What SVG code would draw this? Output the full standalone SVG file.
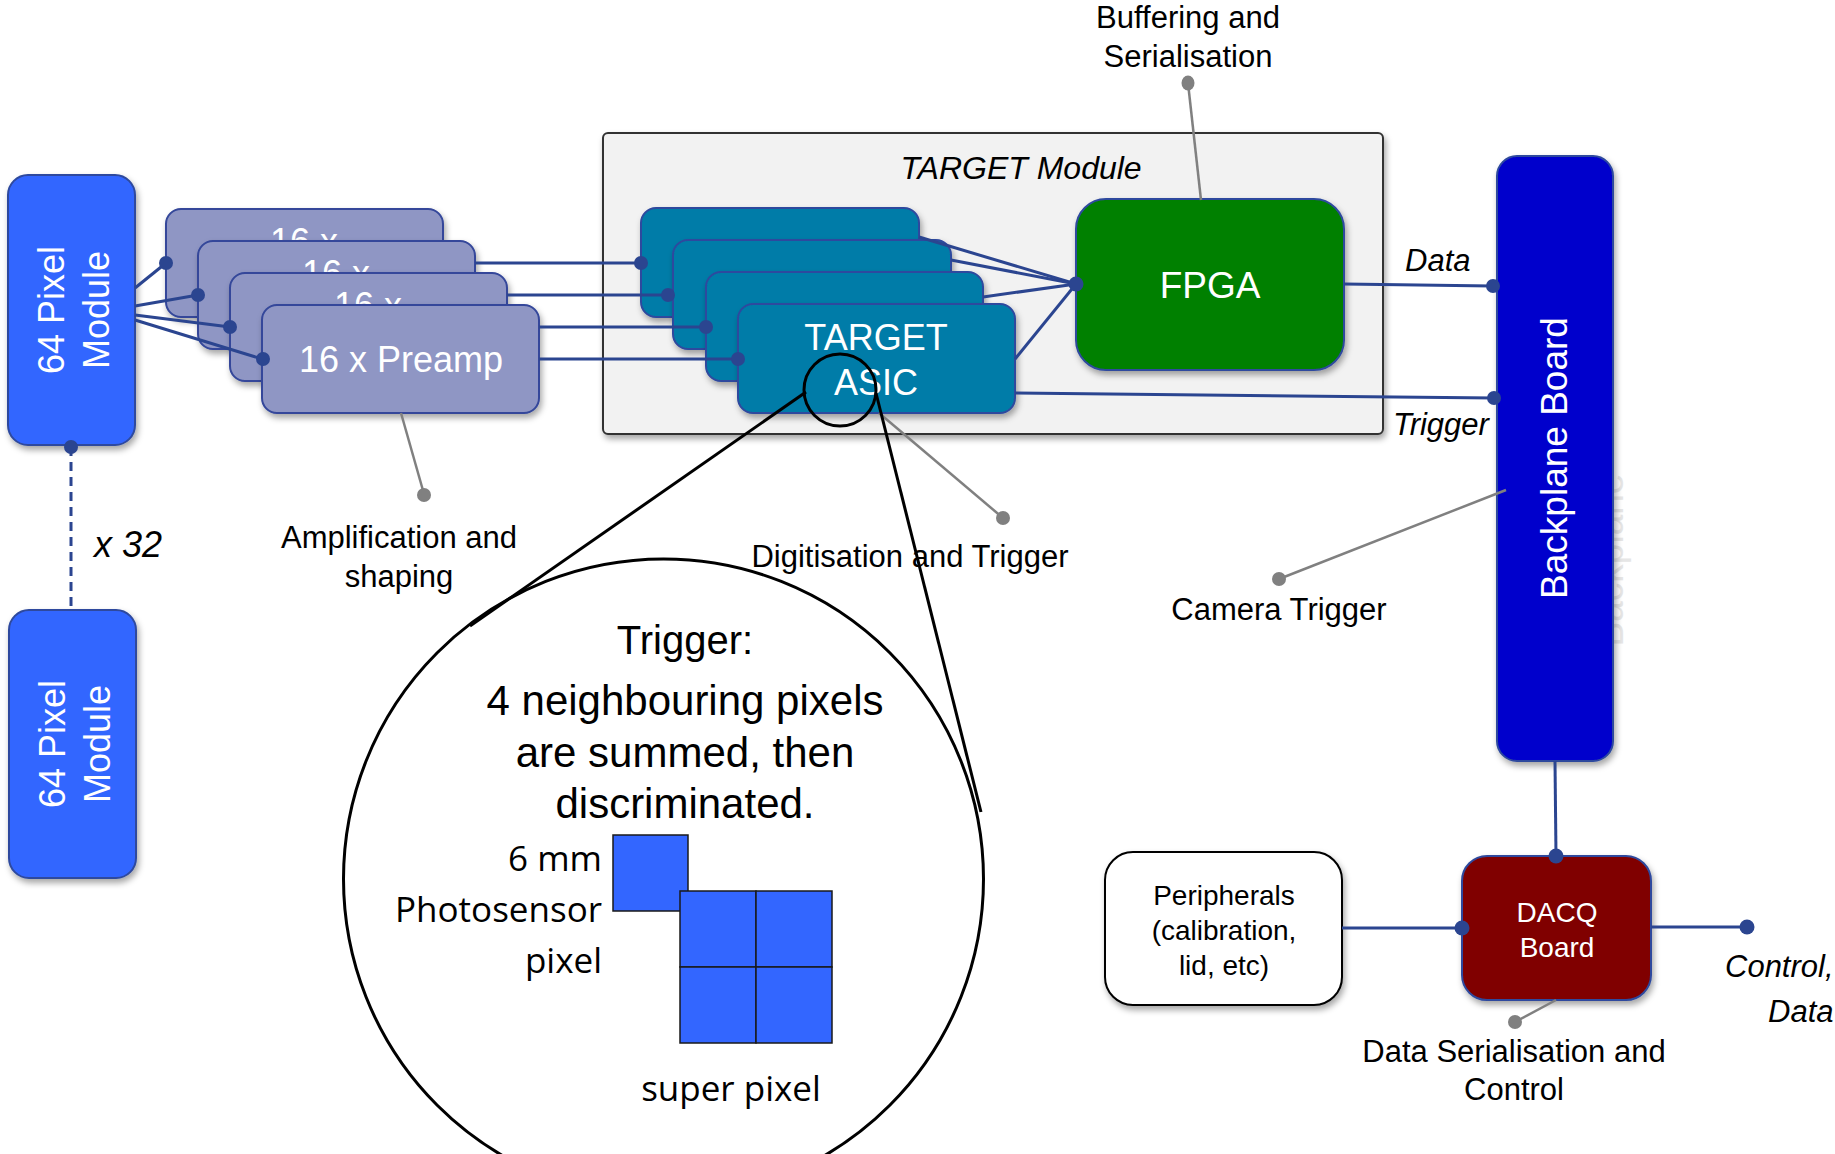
<svg xmlns="http://www.w3.org/2000/svg" width="1835" height="1154" viewBox="0 0 1835 1154">
<defs>
<filter id="sh" x="-20%" y="-20%" width="140%" height="140%"><feDropShadow dx="2" dy="4" stdDeviation="3" flood-color="#000" flood-opacity="0.35"/></filter>
<clipPath id="c1"><rect x="166" y="209" width="277" height="32"/></clipPath>
<clipPath id="c2"><rect x="198" y="241" width="277" height="32"/></clipPath>
<clipPath id="c3"><rect x="230" y="273" width="277" height="32"/></clipPath>
</defs>
<style>
text{font-family:"Liberation Sans",Arial,sans-serif}
.lbl{font-size:31px;fill:#000}
.it{font-style:italic}
.wt{fill:#fff}
.mod{fill:#3366ff;stroke:#2e4a9e;stroke-width:2}
.pre{fill:#8f96c4;stroke:#34479a;stroke-width:2}
.asic{fill:#007ba8;stroke:#2e4a9e;stroke-width:2}
.con{stroke:#2b4590;stroke-width:3;fill:none}
.dot{fill:#2b4590}
.gl{stroke:#808080;stroke-width:2.5;fill:none}
.gd{fill:#808080}
.zl{stroke:#000;stroke-width:3;fill:none}
.px{fill:#3366ff;stroke:#1a1a1a;stroke-width:1.5}
.os{font-family:"Open Sans","Noto Sans",sans-serif;font-size:35px;fill:#000}
</style>
<rect width="1835" height="1154" fill="#fff"/>

<g id="target-module">
<rect x="603" y="133" width="780" height="301" rx="5" fill="#f2f2f2" stroke="#333" stroke-width="2" filter="url(#sh)"/>
<text x="1021" y="179" text-anchor="middle" class="it" font-size="32">TARGET Module</text>
</g>

<g id="pixel-module-1">
<rect class="mod" x="8" y="175" width="127" height="270" rx="20" filter="url(#sh)"/>
<text class="wt" font-size="36" text-anchor="middle" transform="translate(71.5,310) rotate(-90)"><tspan x="0" y="-8">64 Pixel</tspan><tspan x="0" y="37">Module</tspan></text>
</g>
<g id="pixel-module-2">
<rect class="mod" x="9" y="610" width="127" height="268" rx="20" filter="url(#sh)"/>
<text class="wt" font-size="36" text-anchor="middle" transform="translate(72.5,744) rotate(-90)"><tspan x="0" y="-8">64 Pixel</tspan><tspan x="0" y="37">Module</tspan></text>
</g>

<g id="preamp-1">
<rect class="pre" x="166" y="209" width="277" height="108" rx="15" filter="url(#sh)"/>
<text class="wt" font-size="36" x="304" y="254" text-anchor="middle" clip-path="url(#c1)">16 x</text>
</g>
<g id="preamp-2">
<rect class="pre" x="198" y="241" width="277" height="108" rx="15" filter="url(#sh)"/>
<text class="wt" font-size="36" x="336" y="286" text-anchor="middle" clip-path="url(#c2)">16 x</text>
</g>
<g id="preamp-3">
<rect class="pre" x="230" y="273" width="277" height="108" rx="15" filter="url(#sh)"/>
<text class="wt" font-size="36" x="368" y="318" text-anchor="middle" clip-path="url(#c3)">16 x</text>
</g>
<g id="preamp-4">
<rect class="pre" x="262" y="305" width="277" height="108" rx="15" filter="url(#sh)"/>
<text class="wt" font-size="36" x="401" y="372" text-anchor="middle">16 x Preamp</text>
</g>

<g id="asic-1"><rect class="asic" x="641" y="208" width="278" height="109" rx="15" filter="url(#sh)"/></g>
<g id="asic-2"><rect class="asic" x="673" y="240" width="278" height="109" rx="15" filter="url(#sh)"/></g>
<g id="asic-3"><rect class="asic" x="706" y="272" width="277" height="109" rx="15" filter="url(#sh)"/></g>
<g id="asic-4">
<rect class="asic" x="738" y="304" width="277" height="109" rx="15" filter="url(#sh)"/>
<text class="wt" font-size="36" text-anchor="middle"><tspan x="876" y="350">TARGET</tspan><tspan x="876" y="395">ASIC</tspan></text>
</g>

<g id="fpga">
<rect x="1076" y="199" width="268" height="171" rx="30" fill="#008000" stroke="#2e4a9e" stroke-width="2" filter="url(#sh)"/>
<text class="wt" font-size="37" x="1210" y="298" text-anchor="middle">FPGA</text>
</g>

<g id="backplane">
<text font-size="37" fill="#e6e6e6" text-anchor="middle" transform="translate(1555,560) rotate(-90)" x="0" y="68">Backplane</text>
<rect x="1497" y="156" width="116" height="605" rx="20" fill="#0000cc" stroke="#2e4a9e" stroke-width="2" filter="url(#sh)"/>
<text class="wt" font-size="37" text-anchor="middle" transform="translate(1555,458) rotate(-90)" x="0" y="12">Backplane Board</text>
</g>

<g id="peripherals">
<rect x="1105" y="852" width="237" height="153" rx="28" fill="#fff" stroke="#000" stroke-width="2" filter="url(#sh)"/>
<text font-size="28" text-anchor="middle" fill="#000"><tspan x="1224" y="905">Peripherals</tspan><tspan x="1224" y="940">(calibration,</tspan><tspan x="1224" y="975">lid, etc)</tspan></text>
</g>

<g id="dacq">
<rect x="1462" y="856" width="189" height="144" rx="25" fill="#800000" stroke="#2e4a9e" stroke-width="2" filter="url(#sh)"/>
<text class="wt" font-size="28" text-anchor="middle"><tspan x="1557" y="922">DACQ</tspan><tspan x="1557" y="957">Board</tspan></text>
</g>

<g id="connectors">
<line class="con" x1="71" y1="447" x2="71" y2="610" stroke-width="2.5" stroke-dasharray="9,6"/>
<circle class="dot" cx="71" cy="447" r="7"/>
<line class="con" x1="135" y1="288" x2="166" y2="263"/>
<line class="con" x1="135" y1="306" x2="198" y2="295"/>
<line class="con" x1="135" y1="315" x2="230" y2="327"/>
<line class="con" x1="135" y1="320" x2="262" y2="359"/>
<circle class="dot" cx="166" cy="263" r="7"/>
<circle class="dot" cx="198" cy="295" r="7"/>
<circle class="dot" cx="230" cy="327" r="7"/>
<circle class="dot" cx="263" cy="359" r="7"/>
<line class="con" x1="475" y1="263" x2="641" y2="263"/>
<line class="con" x1="507" y1="295" x2="668" y2="295"/>
<line class="con" x1="539" y1="327" x2="706" y2="327"/>
<line class="con" x1="539" y1="359" x2="738" y2="359"/>
<circle class="dot" cx="641" cy="263" r="7"/>
<circle class="dot" cx="668" cy="295" r="7"/>
<circle class="dot" cx="706" cy="327" r="7"/>
<circle class="dot" cx="738" cy="359" r="7"/>
<line class="con" x1="919" y1="237" x2="1076" y2="284"/>
<line class="con" x1="951" y1="260" x2="1076" y2="284"/>
<line class="con" x1="983" y1="297" x2="1076" y2="284"/>
<line class="con" x1="1015" y1="359" x2="1076" y2="284"/>
<circle class="dot" cx="1076" cy="284" r="7.5"/>
<line class="con" x1="1344" y1="284" x2="1492" y2="286"/>
<circle class="dot" cx="1493" cy="286" r="7"/>
<line class="con" x1="1015" y1="393" x2="1494" y2="398"/>
<circle class="dot" cx="1494" cy="398" r="7"/>
<line class="con" x1="1555" y1="761" x2="1556" y2="856"/>
<circle class="dot" cx="1556" cy="856" r="7.5"/>
<line class="con" x1="1342" y1="928" x2="1462" y2="928"/>
<circle class="dot" cx="1462" cy="928" r="7.5"/>
<line class="con" x1="1651" y1="927" x2="1747" y2="927"/>
<circle class="dot" cx="1747" cy="927" r="7.5"/>
</g>

<g id="callouts">
<line class="gl" x1="1188" y1="83" x2="1201" y2="200"/>
<ellipse class="gd" cx="1188" cy="83" rx="6.5" ry="7.5"/>
<line class="gl" x1="401" y1="413" x2="424" y2="494"/>
<circle class="gd" cx="424" cy="495" r="7"/>
<line class="gl" x1="879" y1="413" x2="1003" y2="518"/>
<circle class="gd" cx="1003" cy="518" r="7"/>
<line class="gl" x1="1506" y1="490" x2="1279" y2="579"/>
<circle class="gd" cx="1279" cy="579" r="7"/>
<line class="gl" x1="1556" y1="1000" x2="1515" y2="1022"/>
<circle class="gd" cx="1515" cy="1022" r="7"/>
</g>

<g id="labels">
<text class="lbl" text-anchor="middle"><tspan x="1188" y="28">Buffering and</tspan><tspan x="1188" y="67">Serialisation</tspan></text>
<text class="lbl" text-anchor="middle"><tspan x="399" y="548">Amplification and</tspan><tspan x="399" y="587">shaping</tspan></text>
<text class="lbl" x="910" y="567" text-anchor="middle">Digitisation and Trigger</text>
<text class="lbl" x="1279" y="620" text-anchor="middle">Camera Trigger</text>
<text class="lbl" text-anchor="middle"><tspan x="1514" y="1062">Data Serialisation and</tspan><tspan x="1514" y="1100">Control</tspan></text>
<text class="lbl it" x="1405" y="271">Data</text>
<text class="lbl it" x="1393" y="435">Trigger</text>
<text class="lbl it" x="1725" y="977">Control,</text>
<text class="lbl it" x="1768" y="1022">Data</text>
<text class="it" font-size="36" x="94" y="557">x 32</text>
</g>

<g id="zoom">
<circle class="zl" cx="840" cy="390" r="36"/>
<line class="zl" x1="806" y1="392" x2="470" y2="626"/>
<line class="zl" x1="876" y1="393" x2="981" y2="812"/>
<circle class="zl" cx="663.5" cy="879" r="320"/>
<text font-size="40" x="685" y="654" text-anchor="middle" fill="#000">Trigger:</text>
<text font-size="42" text-anchor="middle" fill="#000"><tspan x="685" y="715">4 neighbouring pixels</tspan><tspan x="685" y="767">are summed, then</tspan><tspan x="685" y="818">discriminated.</tspan></text>
<rect class="px" x="613" y="835" width="75" height="76"/>
<rect class="px" x="680" y="891" width="76" height="76"/>
<rect class="px" x="756" y="891" width="76" height="76"/>
<rect class="px" x="680" y="967" width="76" height="76"/>
<rect class="px" x="756" y="967" width="76" height="76"/>
<text class="os" text-anchor="end"><tspan x="602" y="871">6 mm</tspan><tspan x="602" y="922">Photosensor</tspan><tspan x="602" y="973">pixel</tspan></text>
<text class="os" x="731" y="1101" text-anchor="middle">super pixel</text>
</g>
</svg>
